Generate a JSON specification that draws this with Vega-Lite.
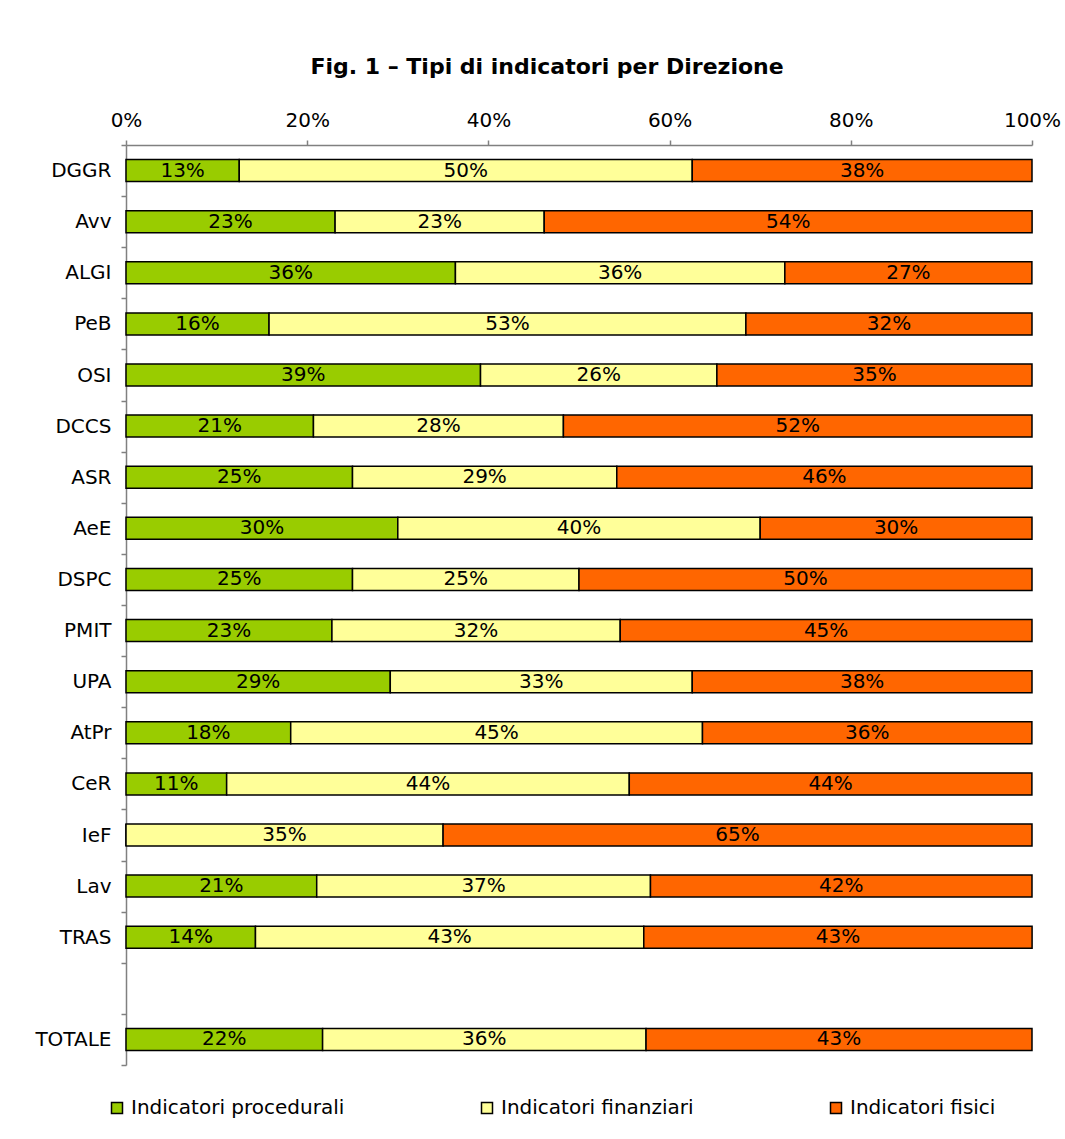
{
 "$schema": "https://vega.github.io/schema/vega-lite/v6.json",
 "width": 906,
 "height": 920,
 "autosize": {"type": "none"},
 "padding": {"left": 126, "top": 145, "right": 33, "bottom": 74},
 "background": "white",
 "config": {"font": "DejaVu Sans", "view": {"stroke": null}},
 "title": {"text": "Fig. 1 – Tipi di indicatori per Direzione", "fontSize": 22, "fontWeight": "bold", "font": "DejaVu Sans", "anchor": "middle", "dx": -32, "offset": 31, "color": "black"},
 "data": {"values": [
  {"d": "DGGR", "t": "Indicatori procedurali", "v": 0.125},
  {"d": "DGGR", "t": "Indicatori finanziari", "v": 0.5},
  {"d": "DGGR", "t": "Indicatori fisici", "v": 0.375},
  {"d": "Avv", "t": "Indicatori procedurali", "v": 0.2308},
  {"d": "Avv", "t": "Indicatori finanziari", "v": 0.2308},
  {"d": "Avv", "t": "Indicatori fisici", "v": 0.5385},
  {"d": "ALGI", "t": "Indicatori procedurali", "v": 0.3636},
  {"d": "ALGI", "t": "Indicatori finanziari", "v": 0.3636},
  {"d": "ALGI", "t": "Indicatori fisici", "v": 0.2727},
  {"d": "PeB", "t": "Indicatori procedurali", "v": 0.1579},
  {"d": "PeB", "t": "Indicatori finanziari", "v": 0.5263},
  {"d": "PeB", "t": "Indicatori fisici", "v": 0.3158},
  {"d": "OSI", "t": "Indicatori procedurali", "v": 0.3913},
  {"d": "OSI", "t": "Indicatori finanziari", "v": 0.2609},
  {"d": "OSI", "t": "Indicatori fisici", "v": 0.3478},
  {"d": "DCCS", "t": "Indicatori procedurali", "v": 0.2069},
  {"d": "DCCS", "t": "Indicatori finanziari", "v": 0.2759},
  {"d": "DCCS", "t": "Indicatori fisici", "v": 0.5172},
  {"d": "ASR", "t": "Indicatori procedurali", "v": 0.25},
  {"d": "ASR", "t": "Indicatori finanziari", "v": 0.2917},
  {"d": "ASR", "t": "Indicatori fisici", "v": 0.4583},
  {"d": "AeE", "t": "Indicatori procedurali", "v": 0.3},
  {"d": "AeE", "t": "Indicatori finanziari", "v": 0.4},
  {"d": "AeE", "t": "Indicatori fisici", "v": 0.3},
  {"d": "DSPC", "t": "Indicatori procedurali", "v": 0.25},
  {"d": "DSPC", "t": "Indicatori finanziari", "v": 0.25},
  {"d": "DSPC", "t": "Indicatori fisici", "v": 0.5},
  {"d": "PMIT", "t": "Indicatori procedurali", "v": 0.2273},
  {"d": "PMIT", "t": "Indicatori finanziari", "v": 0.3182},
  {"d": "PMIT", "t": "Indicatori fisici", "v": 0.4545},
  {"d": "UPA", "t": "Indicatori procedurali", "v": 0.2917},
  {"d": "UPA", "t": "Indicatori finanziari", "v": 0.3333},
  {"d": "UPA", "t": "Indicatori fisici", "v": 0.375},
  {"d": "AtPr", "t": "Indicatori procedurali", "v": 0.1818},
  {"d": "AtPr", "t": "Indicatori finanziari", "v": 0.4545},
  {"d": "AtPr", "t": "Indicatori fisici", "v": 0.3636},
  {"d": "CeR", "t": "Indicatori procedurali", "v": 0.1111},
  {"d": "CeR", "t": "Indicatori finanziari", "v": 0.4444},
  {"d": "CeR", "t": "Indicatori fisici", "v": 0.4444},
  {"d": "IeF", "t": "Indicatori procedurali", "v": 0},
  {"d": "IeF", "t": "Indicatori finanziari", "v": 0.35},
  {"d": "IeF", "t": "Indicatori fisici", "v": 0.65},
  {"d": "Lav", "t": "Indicatori procedurali", "v": 0.2105},
  {"d": "Lav", "t": "Indicatori finanziari", "v": 0.3684},
  {"d": "Lav", "t": "Indicatori fisici", "v": 0.4211},
  {"d": "TRAS", "t": "Indicatori procedurali", "v": 0.1429},
  {"d": "TRAS", "t": "Indicatori finanziari", "v": 0.4286},
  {"d": "TRAS", "t": "Indicatori fisici", "v": 0.4286},
  {"d": "TOTALE", "t": "Indicatori procedurali", "v": 0.217},
  {"d": "TOTALE", "t": "Indicatori finanziari", "v": 0.357},
  {"d": "TOTALE", "t": "Indicatori fisici", "v": 0.426}
 ]},
 "transform": [
  {"calculate": "indexof(['Indicatori procedurali','Indicatori finanziari','Indicatori fisici'], datum.t)", "as": "o"},
  {"stack": "v", "groupby": ["d"], "sort": [{"field": "o", "order": "ascending"}], "as": ["v0", "v1"]},
  {"calculate": "(datum.v0 + datum.v1) / 2", "as": "m"}
 ],
 "encoding": {
  "y": {
   "field": "d", "type": "nominal",
   "scale": {"domain": ["DGGR", "Avv", "ALGI", "PeB", "OSI", "DCCS", "ASR", "AeE", "DSPC", "PMIT", "UPA", "AtPr", "CeR", "IeF", "Lav", "TRAS", " ", "TOTALE"], "paddingInner": 0, "paddingOuter": 0},
   "axis": {"title": null, "tickBand": "extent", "tickSize": 5, "labelPadding": 10, "labelFontSize": 20, "labelColor": "black", "domainColor": "#808080", "tickColor": "#808080", "domainWidth": 1.5, "tickWidth": 1.5, "grid": false}
  }
 },
 "layer": [
  {
   "mark": {"type": "bar", "stroke": "black", "strokeWidth": 1.5, "height": {"band": 0.43}},
   "encoding": {
    "x": {"field": "v0", "type": "quantitative", "scale": {"domain": [0, 1], "nice": false},
     "axis": {"orient": "top", "title": null, "values": [0, 0.2, 0.4, 0.6, 0.8, 1], "format": ".0%", "tickSize": 5, "labelPadding": 10, "labelFontSize": 20, "labelColor": "black", "labelFlush": false, "labelOverlap": false, "domainColor": "#808080", "tickColor": "#808080", "domainWidth": 1.5, "tickWidth": 1.5, "grid": false}},
    "x2": {"field": "v1"},
    "color": {"field": "t", "type": "nominal",
     "scale": {"domain": ["Indicatori procedurali", "Indicatori finanziari", "Indicatori fisici"], "range": ["#99CC00", "#FFFF99", "#FF6600"]},
     "legend": {"title": null, "orient": "none", "legendX": -19, "legendY": 953, "direction": "horizontal", "columns": 3, "symbolType": "square", "symbolSize": 121, "symbolStrokeColor": "black", "symbolStrokeWidth": 1.5, "labelFontSize": 20, "labelColor": "black", "columnPadding": 132, "labelOffset": 4, "labelLimit": 400}}
   }
  },
  {
   "transform": [{"filter": "datum.v > 0"}],
   "mark": {"type": "text", "fontSize": 20, "color": "black", "baseline": "middle", "align": "center"},
   "encoding": {
    "x": {"field": "m", "type": "quantitative"},
    "text": {"field": "v", "type": "quantitative", "format": ".0%"}
   }
  }
 ]
}
